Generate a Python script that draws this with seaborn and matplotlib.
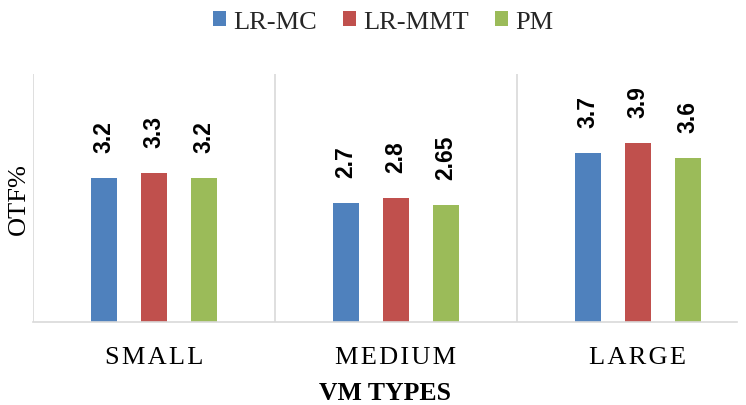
import matplotlib
matplotlib.use("Agg")
import matplotlib.pyplot as plt
import seaborn as sns
import pandas as pd

# Overhead-to-failure percentages per VM size and placement method
vm_types = ["SMALL", "MEDIUM", "LARGE"]
methods = ["LR-MC", "LR-MMT", "PM"]
lr_mc = [3.2, 2.7, 3.7]
lr_mmt = [3.3, 2.8, 3.9]
pm = [3.2, 2.65, 3.6]
value_labels = {
    "LR-MC": ["3.2", "2.7", "3.7"],
    "LR-MMT": ["3.3", "2.8", "3.9"],
    "PM": ["3.2", "2.65", "3.6"],
}

colors = ["#4F81BD", "#C0504D", "#9BBB59"]

df = pd.DataFrame({
    "vm": vm_types * 3,
    "method": [m for m in methods for _ in vm_types],
    "otf": lr_mc + lr_mmt + pm,
})

sns.set_theme(style="white")
serif = ["Liberation Serif", "DejaVu Serif"]

fig = plt.figure(figsize=(7.46, 4.06), dpi=100)
ax = fig.add_axes([33 / 746, 1 - 323 / 406, (737 - 33) / 746, (323 - 75) / 406])

sns.barplot(data=df, x="vm", y="otf", hue="method", order=vm_types,
            hue_order=methods, palette=colors, width=0.62, gap=0.48,
            saturation=1, ax=ax, linewidth=0)

ax.set_xlim(-0.5, 2.41)
ax.set_ylim(0.3, 5.3)

# Value labels above each bar, rotated
for container, m in zip(ax.containers, methods):
    for rect, txt in zip(container, value_labels[m]):
        ax.annotate(txt, (rect.get_x() + rect.get_width() / 2, rect.get_height()),
                    xytext=(0, 19), textcoords="offset points",
                    rotation=90, ha="center", va="bottom",
                    fontsize=16.5, fontweight="bold",
                    family=["Liberation Sans", "DejaVu Sans"], color="black")

# Light category separators and baseline
for xv in [-0.5, 0.5, 1.5]:
    ax.axvline(xv, color="#D9D9D9", lw=1.2, zorder=0)
for s in ["top", "right", "left"]:
    ax.spines[s].set_visible(False)
ax.spines["bottom"].set_color("#D9D9D9")
ax.spines["bottom"].set_linewidth(1.2)

ax.set_yticks([])
ax.set_xticks(range(len(vm_types)))
ax.set_xticklabels(["\u200a".join(v) for v in vm_types], family=serif,
                   fontsize=19, color="black")
ax.tick_params(axis="x", length=0, pad=17.5)

ax.set_xlabel("VM TYPES", family=serif, fontsize=18.5, fontweight="bold",
              color="black", labelpad=9)
ax.set_ylabel("OTF%", family=serif, fontsize=19, color="black", labelpad=2)

handles, labels = ax.get_legend_handles_labels()
ax.legend_.remove()
fig.legend(handles, labels, loc="center", bbox_to_anchor=(383 / 746, 1 - 23 / 406),
           ncol=3, frameon=False, prop={"family": serif, "size": 19},
           handlelength=0.5, handleheight=0.5, handletextpad=0.25,
           columnspacing=1.0, borderaxespad=0)

fig.savefig("out.png", dpi=100)
